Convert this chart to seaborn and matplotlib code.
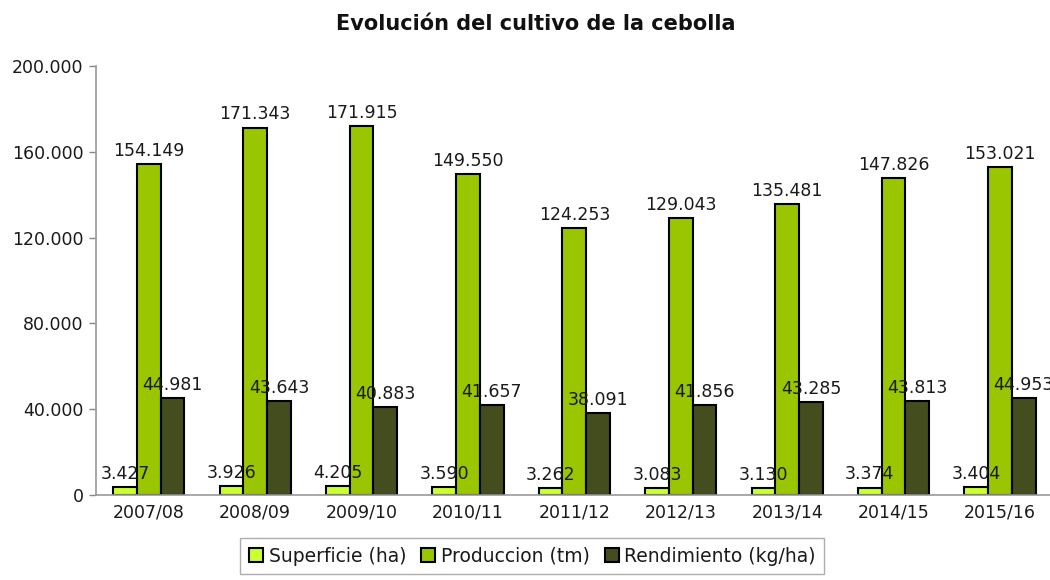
import matplotlib
matplotlib.use("Agg")
import matplotlib.pyplot as plt
import seaborn as sns
import pandas as pd
import numpy as np

campanas = ["2007/08", "2008/09", "2009/10", "2010/11", "2011/12",
            "2012/13", "2013/14", "2014/15", "2015/16"]
superficie = [3427, 3926, 4205, 3590, 3262, 3083, 3130, 3374, 3404]
produccion = [154149, 171343, 171915, 149550, 124253, 129043, 135481, 147826, 153021]
rendimiento = [44981, 43643, 40883, 41657, 38091, 41856, 43285, 43813, 44953]
series_names = ["Superficie (ha)", "Produccion (tm)", "Rendimiento (kg/ha)"]
colors = ["#CCFF33", "#99C600", "#434D1E"]
y_ticks = [0, 40000, 80000, 120000, 160000, 200000]

sns.set_style("white")
plt.rcParams["font.family"] = ["DejaVu Sans"]
plt.rcParams["text.color"] = "#1a1a1a"

df = pd.DataFrame({
    "campana": campanas * 3,
    "valor": superficie + produccion + rendimiento,
    "serie": [series_names[0]] * 9 + [series_names[1]] * 9 + [series_names[2]] * 9,
})

fig = plt.figure(figsize=(10.5, 5.8), dpi=100)
ax = fig.add_axes([0.091, 0.147, 0.912, 0.739])

sns.barplot(data=df, x="campana", y="valor", hue="serie", palette=colors,
            order=campanas, hue_order=series_names, width=0.67, saturation=1,
            edgecolor="black", linewidth=1.5, ax=ax, legend=True)

def fmt(v):
    return f"{int(round(v)):,}".replace(",", ".")

for cont in ax.containers:
    ax.bar_label(cont, labels=[fmt(b.get_height()) for b in cont],
                 padding=3, fontsize=12.5, color="#1a1a1a")

ax.set_ylim(0, 200000)
ax.set_xlim(-0.5, len(campanas) - 0.5)
ax.set_yticks(y_ticks)
ax.set_yticklabels([fmt(t) for t in y_ticks], fontsize=12.5)
ax.tick_params(axis="x", labelsize=12.5, length=0, pad=6, labelcolor="#1a1a1a")
ax.set_xticks(np.arange(-0.5, len(campanas), 1.0), minor=True)
ax.tick_params(axis="x", which="minor", length=6, color="#888888", width=1)
ax.tick_params(axis="y", length=5, color="#888888", width=1, left=True,
               labelcolor="#1a1a1a")
ax.set_xlabel("")
ax.set_ylabel("")
for s in ["top", "right"]:
    ax.spines[s].set_visible(False)
for s in ["left", "bottom"]:
    ax.spines[s].set_color("#999999")
    ax.spines[s].set_linewidth(1.2)

fig.suptitle("Evolución del cultivo de la cebolla", x=0.51, y=0.975,
             fontsize=15, fontweight="bold", color="#111111")

handles, labels = ax.get_legend_handles_labels()
ax.legend(handles, labels, loc="lower center", bbox_to_anchor=(0.507, -0.006),
          bbox_transform=fig.transFigure,
          ncol=3, frameon=True, fancybox=False, edgecolor="#999999",
          fontsize=13.5, handlelength=0.75, handleheight=0.75, handletextpad=0.3,
          columnspacing=0.8, borderpad=0.45)

fig.savefig("out.png", dpi=100)
